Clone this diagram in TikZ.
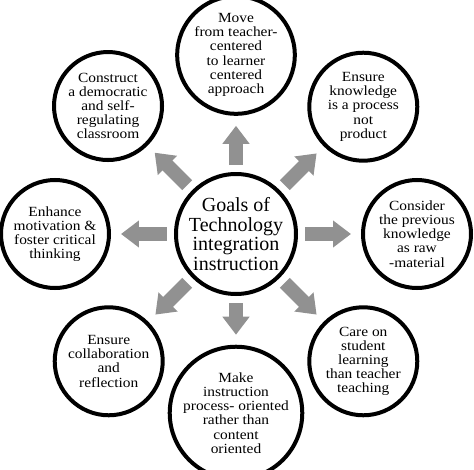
\documentclass[tikz,border=0pt]{standalone}
\usepackage{fontspec}
\setmainfont{Liberation Serif}
\newfontfamily\goalfont{Liberation Serif}[FakeStretch=1.1]
\usetikzlibrary{arrows.meta}
\definecolor{arrowgray}{RGB}{145,145,145}

\tikzset{
  goal/.style={circle, draw, line width=4pt, minimum size=108pt, inner sep=0pt,
    align=center, font=\goalfont\fontsize{14}{14.2}\selectfont},
  hub/.style={circle, draw, line width=4pt, minimum size=120pt, inner sep=0pt,
    align=center, font=\fontsize{20}{19.5}\selectfont},
  push/.style={draw=arrowgray, line width=14pt,
    -{Triangle[length=18pt,width=26pt]}, shorten <=7pt, shorten >=10pt}
}

\begin{document}
\begin{tikzpicture}[x=1pt,y=1pt]
  \useasboundingbox (-236,-235) rectangle (238,234);

  % centre
  \node[hub] (goals) at (0,0) {Goals of\\Technology\\integration\\instruction};

  % outer goals
  \node[goal] (move) at (90:179) {Move\\from teacher-\\centered\\to learner\\centered\\approach};
  \node[goal] (process) at (45:180) {Ensure\\knowledge\\is a process\\not\\product};
  \node[goal] (raw) at (0:181) {Consider\\the previous\\knowledge\\as raw\\-material};
  \node[goal] (care) at (-45:180) {Care on\\student\\learning\\than teacher\\teaching};
  \node[goal] (make) at (-90:179) {Make\\instruction\\process- oriented\\rather than\\content\\oriented};
  \node[goal] (collab) at (-135:180) {Ensure\\collaboration\\and\\reflection};
  \node[goal] (motiv) at (180:181) {Enhance\\motivation \&\\foster critical\\thinking};
  \node[goal] (demo) at (135:181) {Construct\\a democratic\\and self-\\regulating\\classroom};

  % arrows
  \draw[push] (goals) -- (move);
  \draw[push] (goals) -- (process);
  \draw[push] (goals) -- (raw);
  \draw[push] (goals) -- (care);
  \draw[push] (goals) -- (make);
  \draw[push] (goals) -- (collab);
  \draw[push] (goals) -- (motiv);
  \draw[push] (goals) -- (demo);
\end{tikzpicture}
\end{document}
